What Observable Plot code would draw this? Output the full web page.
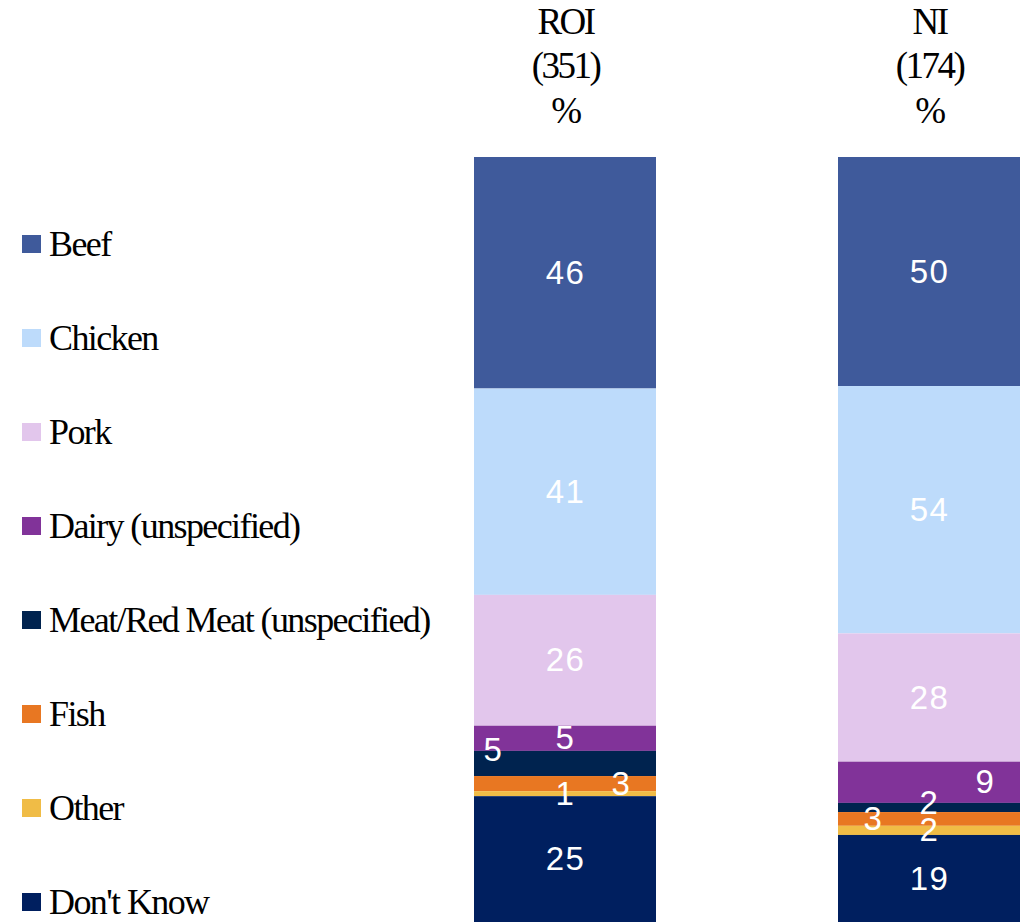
<!DOCTYPE html>
<html>
<head>
<meta charset="utf-8">
<script src="https://cdn.jsdelivr.net/npm/d3@7"></script>
<script src="https://cdn.jsdelivr.net/npm/@observablehq/plot@0.6"></script>
<style>
  html, body { margin: 0; padding: 0; background: #ffffff; }
  #wrap { position: relative; width: 1024px; height: 922px; overflow: hidden; }
  #chart { position: absolute; left: 0; top: 0; }
  .legend-item { position: absolute; left: 0; height: 36px; width: 460px; }
  .legend-swatch { position: absolute; left: 22px; width: 19px; height: 18px; }
  .legend-label { position: absolute; left: 49px; top: 0; font-family: "Liberation Serif", "Times New Roman", serif; font-size: 36px; line-height: 36px; letter-spacing: -1.6px; color: #000; white-space: nowrap; }
</style>
</head>
<body>
<div id="wrap">
  <div id="legend"></div>
  <div id="chart"></div>
</div>
<script>
// ---- data ----
const groups = ["ROI", "NI"];
const bases = [351, 174];
const categories = ["Beef", "Chicken", "Pork", "Dairy (unspecified)", "Meat/Red Meat (unspecified)", "Fish", "Other", "Don't Know"];
const roiValues = [46, 41, 26, 5, 5, 3, 1, 25];
const niValues = [50, 54, 28, 9, 2, 3, 2, 19];
const colors = ["#3F5A9B", "#BDDBFB", "#E2C6EC", "#813399", "#00234F", "#E87722", "#F0BC46", "#001F5F"];

const seriesByGroup = {ROI: roiValues, NI: niValues};
const data = [];
for (const g of groups) {
  categories.forEach((c, i) => data.push({group: g, category: c, value: seriesByGroup[g][i]}));
}

// label placement tweaks for thin segments (layout only)
const labelShift = {
  "ROI|Meat/Red Meat (unspecified)": "upleft",
  "ROI|Fish": "right",
  "NI|Dairy (unspecified)": "right",
  "NI|Fish": "left",
  "NI|Meat/Red Meat (unspecified)": "up"
};
const shiftOf = d => labelShift[d.group + "|" + d.category] || "center";

function labelMark(kind, dx, dy) {
  return Plot.text(data, Plot.stackY({
    x: "group", y: "value", z: "category", offset: "normalize",
    text: d => shiftOf(d) === kind ? String(d.value) : "",
    dx, dy,
    fill: "white", fontSize: 33,
    fontFamily: "'Liberation Sans', Arial, sans-serif"
  }));
}

const chart = Plot.plot({
  width: 1024,
  height: 922,
  marginTop: 157,
  marginBottom: 0,
  marginLeft: 474,
  marginRight: 4,
  style: {background: "transparent", overflow: "visible"},
  x: {domain: groups, paddingInner: 0.5, paddingOuter: 0, axis: null},
  y: {domain: [0, 1], reverse: true, axis: null},
  color: {domain: categories, range: colors},
  marks: [
    Plot.barY(data, Plot.stackY({x: "group", y: "value", fill: "category", offset: "normalize", inset: 0})),
    labelMark("center", 0, 0),
    labelMark("upleft", -72, -14),
    labelMark("right", 56, 0),
    labelMark("left", -56, 0),
    labelMark("up", 0, -5),
    Plot.text(groups, {
      x: d => d,
      frameAnchor: "top",
      text: (d, i) => `${d}\n(${bases[i]})\n%`,
      lineAnchor: "bottom",
      lineHeight: 1.2,
      dy: -35,
      fill: "black",
      fontSize: 37,
      fontFamily: "'Liberation Serif', 'Times New Roman', serif"
    })
  ]
});
document.getElementById("chart").appendChild(chart);

// letter spacing tweaks (style only)
const textGroups = chart.querySelectorAll('g[aria-label="text"]');
textGroups.forEach((g, i) => {
  if (i === textGroups.length - 1) g.style.letterSpacing = "-2.5px";
  else g.style.letterSpacing = "1.5px";
});

// ---- legend ----
const legend = document.getElementById("legend");
categories.forEach((c, i) => {
  const item = document.createElement("div");
  item.className = "legend-item";
  item.style.top = (226 + i * 94) + "px";
  const sw = document.createElement("div");
  sw.className = "legend-swatch";
  sw.style.top = "9px";
  sw.style.background = colors[i];
  const lab = document.createElement("div");
  lab.className = "legend-label";
  lab.textContent = c;
  item.appendChild(sw);
  item.appendChild(lab);
  legend.appendChild(item);
});
</script>
</body>
</html>
